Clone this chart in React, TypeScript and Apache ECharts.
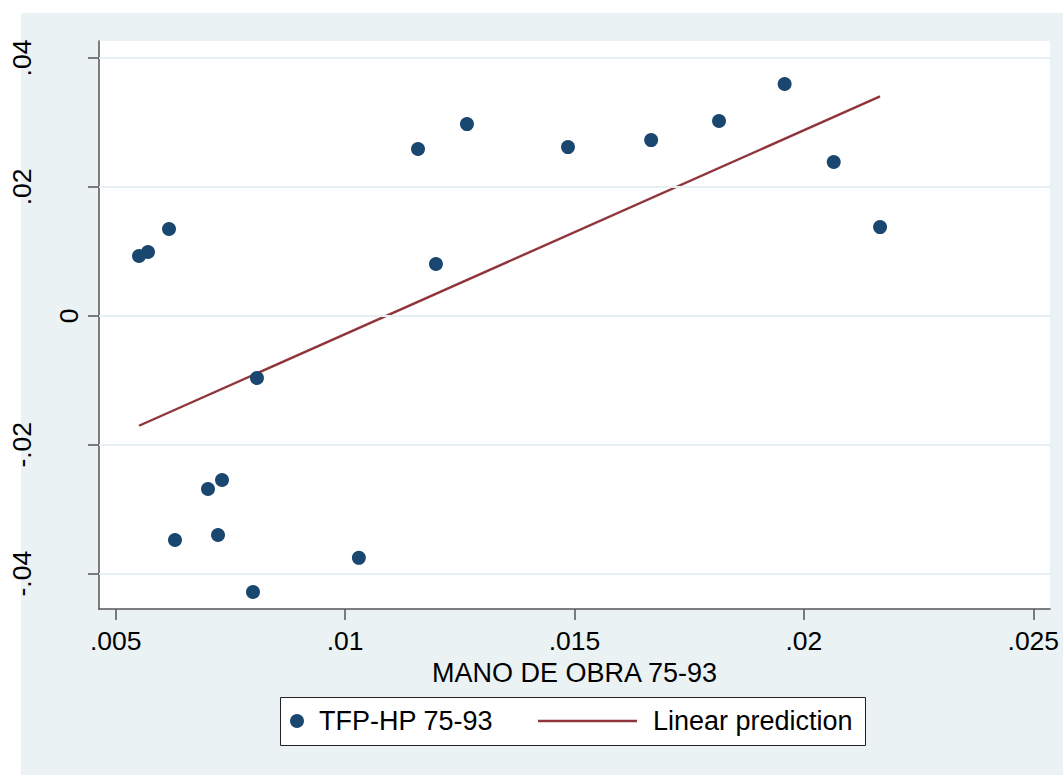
import React, { useEffect, useRef } from "react";
import * as echarts from "echarts";

// Scatter points (x: MANO DE OBRA 75-93, y: TFP-HP 75-93)
const xValues = [
  0.005508, 0.005704, 0.006162, 0.006292, 0.007012, 0.007317, 0.00723, 0.007992, 0.008079,
  0.0103, 0.011589, 0.01198, 0.012656, 0.014858, 0.01667, 0.01815, 0.01958, 0.02065, 0.02166,
];
const yValues = [
  0.00928, 0.0099, 0.01347, -0.03478, -0.02687, -0.02547, -0.034, -0.04284, -0.00965,
  -0.03754, 0.02588, 0.00804, 0.02975, 0.02618, 0.02727, 0.03022, 0.03596, 0.02386, 0.01377,
];

// Linear prediction endpoints
const fitX = [0.005508, 0.02166];
const fitY = [-0.01705, 0.03405];

// Axes
const xTicks = [0.005, 0.01, 0.015, 0.02, 0.025];
const xTickLabels = [".005", ".01", ".015", ".02", ".025"];
const yTicks = [-0.04, -0.02, 0, 0.02, 0.04];
const yTickLabels = ["-.04", "-.02", "0", ".02", ".04"];
const xMin = 0.004636;
const xMax = 0.025364;
const yMin = -0.04548;
const yMax = 0.04264;

const xTitle = "MANO DE OBRA 75-93";
const scatterName = "TFP-HP 75-93";
const lineName = "Linear prediction";

const FONT = "'Liberation Sans', Arial, Helvetica, sans-serif";
const BG = "#EAF2F3";
const AXIS = "#555555";
const LINE_COLOR = "#90353B";

function findLabel(v: number, ticks: number[], labels: string[]) {
  for (let i = 0; i < ticks.length; i++) {
    if (Math.abs(v - ticks[i]) < 1e-9) return labels[i];
  }
  return "";
}

export default function App() {
  const ref = useRef<HTMLDivElement>(null);

  useEffect(() => {
    if (!ref.current) return;
    const chart = echarts.init(ref.current, undefined, { renderer: "svg" });

    const option: any = {
      animation: false,
      backgroundColor: "#ffffff",
      textStyle: { fontFamily: FONT },
      graphic: {
        elements: [
          {
            type: "rect",
            z: -10,
            silent: true,
            shape: { x: 21, y: 13, width: 1042, height: 762 },
            style: { fill: BG },
          },
          {
            type: "rect",
            z: 1,
            silent: true,
            shape: { x: 280.5, y: 697.5, width: 585, height: 48 },
            style: { fill: "#ffffff", stroke: "#222222", lineWidth: 1 },
          },
        ],
      },
      grid: {
        left: 99,
        top: 41,
        right: 13,
        bottom: 166,
        show: true,
        backgroundColor: "#ffffff",
        borderWidth: 0,
        containLabel: false,
      },
      xAxis: {
        type: "value",
        min: xMin,
        max: xMax,
        name: xTitle,
        nameLocation: "middle",
        nameGap: 40,
        nameTextStyle: { color: "#000", fontSize: 27, fontFamily: FONT, lineHeight: 27 },
        axisLine: { show: true, onZero: false, lineStyle: { color: AXIS, width: 1.5 } },
        axisTick: {
          show: true,
          length: 11,
          customValues: xTicks,
          lineStyle: { color: AXIS, width: 1.5 },
        },
        axisLabel: {
          customValues: xTicks,
          margin: 19,
          color: "#000",
          fontSize: 26.5,
          lineHeight: 26,
          fontFamily: FONT,
          formatter: (v: number) => findLabel(v, xTicks, xTickLabels),
        },
        splitLine: { show: false },
      },
      yAxis: {
        type: "value",
        min: yMin,
        max: yMax,
        axisLine: { show: true, onZero: false, lineStyle: { color: AXIS, width: 1.5 } },
        axisTick: {
          show: true,
          length: 11,
          customValues: yTicks,
          lineStyle: { color: AXIS, width: 1.5 },
        },
        axisLabel: {
          customValues: yTicks,
          rotate: 90,
          margin: 17,
          color: "#000",
          fontSize: 26.5,
          lineHeight: 26,
          fontFamily: FONT,
          formatter: (v: number) => {
            const s = findLabel(v, yTicks, yTickLabels);
            return s === "0" ? "{z|" + s + "}" : "{n|" + s + "}";
          },
          rich: {
            z: { fontSize: 26.5, lineHeight: 26, color: "#000", fontFamily: FONT },
            n: {
              fontSize: 26.5,
              lineHeight: 26,
              color: "#000",
              fontFamily: FONT,
              padding: [0, 0, 95, 0],
            },
          },
        },
        splitLine: { show: false },
      },
      legend: [
        {
          data: [{ name: scatterName, icon: "circle" }],
          left: 290,
          top: 706,
          padding: 0,
          itemWidth: 14,
          itemHeight: 14,
          selectedMode: false,
          textStyle: {
            color: "#000",
            fontSize: 27,
            lineHeight: 30,
            fontFamily: FONT,
            padding: [0, 0, 0, 10],
          },
        },
        {
          data: [{ name: lineName, icon: "rect" }],
          left: 538,
          top: 706,
          padding: 0,
          itemWidth: 99,
          itemHeight: 2.5,
          selectedMode: false,
          itemStyle: { color: LINE_COLOR },
          textStyle: {
            color: "#000",
            fontSize: 27,
            lineHeight: 30,
            fontFamily: FONT,
            padding: [0, 0, 0, 11],
          },
        },
      ],
      series: [
        {
          name: "grid",
          type: "line",
          data: [],
          z: 1,
          silent: true,
          markLine: {
            silent: true,
            symbol: "none",
            label: { show: false },
            lineStyle: { color: "#E6EFF1", width: 2, type: "solid" },
            data: yTicks.map((t) => ({ yAxis: t })),
          },
        },
        {
          name: lineName,
          type: "line",
          data: fitX.map((x, i) => [x, fitY[i]]),
          symbol: "none",
          z: 3,
          lineStyle: { color: LINE_COLOR, width: 2.4 },
          itemStyle: { color: LINE_COLOR },
        },
        {
          name: scatterName,
          type: "scatter",
          data: xValues.map((x, i) => [x, yValues[i]]),
          symbol: "circle",
          symbolSize: 14,
          z: 4,
          itemStyle: { color: "#1A476F", opacity: 1 },
        },
      ],
    };

    chart.setOption(option);
    return () => {
      chart.dispose();
    };
  }, []);

  return (
    <div
      ref={ref}
      style={{ position: "fixed", left: 0, top: 0, width: 1063, height: 775 }}
    />
  );
}
